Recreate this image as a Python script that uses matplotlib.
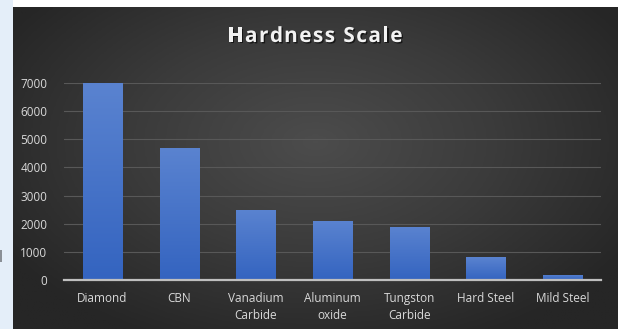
import numpy as np
import matplotlib
matplotlib.use("Agg")
import matplotlib.pyplot as plt
from matplotlib.patches import Rectangle
import matplotlib.patheffects as pe
from matplotlib.colors import LinearSegmentedColormap

# ── dati ──
materials = ["Diamond", "CBN", "Vanadium\nCarbide", "Aluminum\noxide",
             "Tungston\nCarbide", "Hard Steel", "Mild Steel"]
hardness = [7000, 4700, 2500, 2100, 1900, 800, 180]
y_ticks = [0, 1000, 2000, 3000, 4000, 5000, 6000, 7000]
title = "Hardness Scale"

W, H = 622, 329
plt.rcParams["font.family"] = ["Open Sans", "DejaVu Sans"]

fig = plt.figure(figsize=(W / 100, H / 100), dpi=100)
fig.patch.set_facecolor("white")

# striscia azzurra a sinistra
fig.patches.append(Rectangle((0, 0), 13 / W, 1, transform=fig.transFigure,
                             facecolor="#e4eef9", edgecolor="none", zorder=0))
fig.patches.append(Rectangle((0, (329 - 262) / H), 2 / W, 12 / H, transform=fig.transFigure,
                             facecolor="#8a8f96", edgecolor="none", zorder=1))

# sfondo con gradiente radiale
bg = fig.add_axes([13 / W, 0, (618 - 13) / W, (329 - 7) / H])
yy, xx = np.mgrid[0:1:200j, 0:1:400j]
r = np.sqrt(((xx - 0.5) / 0.75) ** 2 + ((yy - 0.42) / 0.85) ** 2)
r = np.clip(r / 0.8, 0, 1)
bg_cmap = LinearSegmentedColormap.from_list("bg", ["#4c4c4c", "#3b3b3b", "#262626"])
bg.imshow(r, cmap=bg_cmap, aspect="auto", extent=[0, 1, 0, 1], origin="upper")
bg.axis("off")

# titolo con spaziatura tra le lettere (disegnato carattere per carattere)
renderer = fig.canvas.get_renderer()
title_kw = dict(color="#f2f2f2", fontsize=15, fontweight="bold", va="baseline",
                path_effects=[pe.withSimplePatchShadow(offset=(1, -1), shadow_rgbFace="black", alpha=0.6)])
TITLE_W = 175  # larghezza del titolo in px
widths = []
for i in range(len(title)):
    t1 = fig.text(0, 0, title[:i + 1] + "|", **title_kw)
    t0 = fig.text(0, 0, title[:i] + "|", **title_kw)
    widths.append(t1.get_window_extent(renderer).width - t0.get_window_extent(renderer).width)
    t1.remove()
    t0.remove()
spacing = max(0.0, (TITLE_W - sum(widths)) / (len(title) - 1))
x_px = 315 - TITLE_W / 2
for ch, w in zip(title, widths):
    fig.text(x_px / W, 1 - 42 / H, ch, ha="left", **title_kw)
    x_px += w + spacing

# grafico
ax = fig.add_axes([64 / W, (329 - 280) / H, 537 / W, 197 / H])
ax.set_facecolor("none")
x = np.arange(len(materials))
bars = ax.bar(x, hardness, width=0.51, color="#4472c4", zorder=3)

# gradiente sulle barre
bar_cmap = LinearSegmentedColormap.from_list("bar", ["#3464c0", "#5a83d0"])
grad = np.linspace(0, 1, 100).reshape(-1, 1)
for b in bars:
    x0, y0 = b.get_x(), b.get_y()
    im = ax.imshow(grad, cmap=bar_cmap, aspect="auto", origin="lower",
                   extent=[x0, x0 + b.get_width(), y0, y0 + b.get_height()], zorder=4)
    im.set_clip_path(b)

ax.set_xlim(-0.5, len(materials) - 0.5)
ax.set_ylim(0, 7000)
ax.set_yticks(y_ticks)
ax.set_xticks(x)
ax.set_xticklabels(materials, linespacing=1.45)
ax.grid(axis="y", color="#585858", linewidth=0.8, zorder=0)
for s in ["top", "right", "left"]:
    ax.spines[s].set_visible(False)
ax.spines["bottom"].set_color("#bfbfbf")
ax.spines["bottom"].set_linewidth(1.6)
ax.spines["bottom"].set_zorder(5)
ax.tick_params(axis="both", length=0, colors="#d9d9d9", labelsize=8.5)
ax.tick_params(axis="y", pad=12)
ax.tick_params(axis="x", pad=8.5)

fig.savefig("out.png", dpi=100, facecolor=fig.get_facecolor())
